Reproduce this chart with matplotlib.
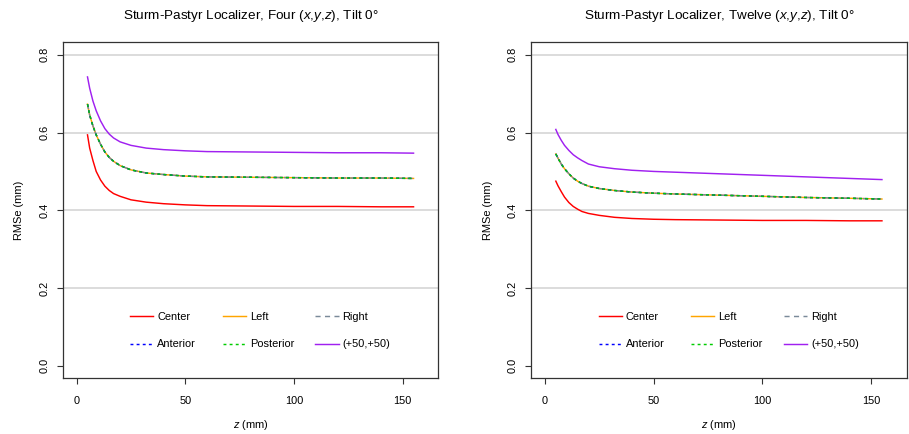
import matplotlib.pyplot as plt
import numpy as np

# ---- data ----
z = [5, 6, 7.5, 9, 11, 13, 15, 17, 20, 25, 32, 40, 50, 60, 80, 100, 120, 140, 155]

four_center = [0.594, 0.560, 0.528, 0.500, 0.478, 0.462, 0.451, 0.443, 0.436, 0.427,
               0.421, 0.417, 0.414, 0.412, 0.411, 0.410, 0.410, 0.409, 0.409]
four_side = [0.673, 0.645, 0.617, 0.594, 0.570, 0.550, 0.536, 0.526, 0.515, 0.504,
             0.496, 0.492, 0.488, 0.486, 0.485, 0.484, 0.483, 0.483, 0.482]
four_p50 = [0.743, 0.714, 0.681, 0.656, 0.630, 0.610, 0.596, 0.586, 0.576, 0.567,
            0.560, 0.556, 0.553, 0.551, 0.550, 0.549, 0.548, 0.548, 0.547]

twelve_center = [0.475, 0.463, 0.448, 0.434, 0.420, 0.410, 0.403, 0.397, 0.392, 0.387,
                 0.382, 0.379, 0.377, 0.376, 0.375, 0.374, 0.374, 0.373, 0.373]
twelve_side = [0.545, 0.534, 0.519, 0.507, 0.494, 0.483, 0.475, 0.469, 0.462, 0.456,
               0.451, 0.447, 0.444, 0.442, 0.439, 0.436, 0.433, 0.431, 0.429]
twelve_p50 = [0.608, 0.595, 0.580, 0.567, 0.554, 0.543, 0.535, 0.528, 0.519, 0.512,
              0.507, 0.503, 0.500, 0.498, 0.494, 0.490, 0.486, 0.482, 0.479]

series_names = ["Center", "Left", "Right", "Anterior", "Posterior", "(+50,+50)"]
titles = ["Sturm-Pastyr Localizer, Four ($x$,$y$,$z$), Tilt 0°",
          "Sturm-Pastyr Localizer, Twelve ($x$,$y$,$z$), Tilt 0°"]
x_ticks = [0, 50, 100, 150]
y_ticks = [0.0, 0.2, 0.4, 0.6, 0.8]
grid_levels = [0.2, 0.4, 0.6, 0.8]

# ---- style ----
plt.rcParams.update({
    "font.family": ["Liberation Sans", "DejaVu Sans"],
    "font.size": 7.9,
    "mathtext.fontset": "custom",
    "mathtext.rm": "Liberation Sans",
    "mathtext.it": "Liberation Sans:italic",
})

styles = {
    "Center": dict(color="#ff0000", ls="-"),
    "Left": dict(color="#ffa500", ls="-"),
    "Right": dict(color="#7a8a99", ls=(0, (3.5, 3))),
    "Anterior": dict(color="#0000ff", ls=(0, (2, 2.2))),
    "Posterior": dict(color="#00cc00", ls=(0, (2, 2.2))),
    "(+50,+50)": dict(color="#a020f0", ls="-"),
}
axis_col = "#333333"


def draw_panel(ax, title, center, side, p50):
    values = {"Center": center, "Left": side, "Right": side,
              "Anterior": side, "Posterior": side, "(+50,+50)": p50}
    for g in grid_levels:
        ax.axhline(g, color="#d6d6d6", lw=1.2, zorder=0)
    handles = {}
    for name in series_names:
        st = styles[name]
        (ln,) = ax.plot(z, values[name], color=st["color"], ls=st["ls"], lw=1.05, label=name)
        handles[name] = ln

    ax.set_xlim(-6.4, 166.4)
    ax.set_ylim(-0.032, 0.832)
    ax.set_xticks(x_ticks)
    ax.set_yticks(y_ticks)
    ax.set_yticklabels([f"{v:.1f}" for v in y_ticks], rotation=90, va="center")
    ax.tick_params(length=4.5, width=0.8, color=axis_col, labelcolor="black")
    ax.tick_params(axis="x", pad=8)
    ax.tick_params(axis="y", pad=5)
    for sp in ax.spines.values():
        sp.set_color(axis_col)
        sp.set_linewidth(0.9)

    ax.set_title(title, fontsize=9.7, pad=16.5)
    ax.set_xlabel("$z$ (mm)", labelpad=9)
    ax.set_ylabel("RMSe (mm)", labelpad=11)

    # legend: three columns placed like the R legend
    cols = [["Center", "Anterior"], ["Left", "Posterior"], ["Right", "(+50,+50)"]]
    xpos = [0.18, 0.427, 0.673]
    for i, col in enumerate(cols):
        leg = ax.legend([handles[n] for n in col], col, loc="center left",
                        bbox_to_anchor=(xpos[i], 0.142), frameon=False,
                        borderpad=0, borderaxespad=0, handlelength=2.1,
                        handletextpad=0.37, labelspacing=1.62)
        if i < 2:
            ax.add_artist(leg)


fig = plt.figure(figsize=(9.09, 4.34), dpi=100)
ax1 = fig.add_axes([0.069, 0.1283, 0.4132, 0.7742])
ax2 = fig.add_axes([0.5842, 0.1283, 0.4133, 0.7742])

draw_panel(ax1, titles[0], four_center, four_side, four_p50)
draw_panel(ax2, titles[1], twelve_center, twelve_side, twelve_p50)

fig.savefig("out.png", dpi=100)
